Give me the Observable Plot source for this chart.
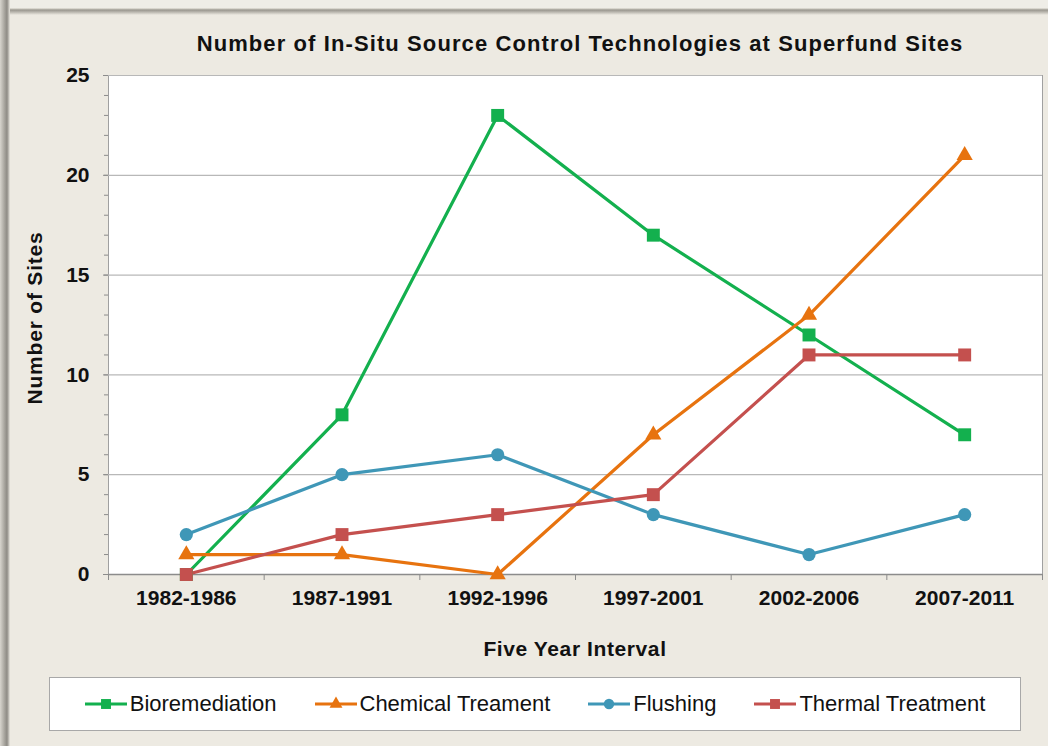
<!DOCTYPE html>
<html>
<head>
<meta charset="utf-8">
<script src="https://cdn.jsdelivr.net/npm/d3@7"></script>
<script src="https://cdn.jsdelivr.net/npm/@observablehq/plot@0.6"></script>
<style>
  html, body { margin: 0; padding: 0; }
  body { width: 1048px; height: 746px; overflow: hidden; font-family: "Liberation Sans", Arial, Helvetica, sans-serif; }
  #wrap { position: relative; width: 1048px; height: 746px; background: #EDEAE2; overflow: hidden; }
  #shadowL { position: absolute; left: 0; top: 0; width: 10px; height: 746px;
    background: linear-gradient(to right, #d8d5ce 0px, #a29f98 5px, #8e8b85 7px, #c9c6bf 9px, #EDEAE2 10px); }
  #shadowT { position: absolute; left: 0; top: 8px; width: 1048px; height: 7px;
    background: linear-gradient(to bottom, #EDEAE2 0px, #9a978f 2px, #b9b6ae 4px, #EDEAE2 7px); }
  #topband { position: absolute; left: 0; top: 0; width: 1048px; height: 9px; background: #EFEDE7; }
  #title { position: absolute; left: 110px; width: 940px; top: 31px; text-align: center;
    font-weight: bold; font-size: 22px; letter-spacing: 1.1px; color: #111; }
  #chart { position: absolute; left: 0; top: 0; }
  #ylabel { position: absolute; left: 35px; top: 318px; transform: translate(-50%, -50%) rotate(-90deg);
    font-weight: bold; font-size: 21px; letter-spacing: 0.8px; white-space: nowrap; color: #111; }
  #xlabel { position: absolute; left: 575px; top: 649px; transform: translate(-50%, -50%);
    font-weight: bold; font-size: 21px; letter-spacing: 0.6px; white-space: nowrap; color: #111; }
  #legend { position: absolute; left: 49px; top: 677px; width: 970px; height: 52px; background: #fff;
    border: 1px solid #a8a8a8; display: flex; align-items: center; justify-content: center; gap: 38px;
    font-size: 22px; color: #111; box-sizing: content-box; }
  .item { display: flex; align-items: center; white-space: nowrap; }
  .item svg { margin-right: 3px; }
</style>
</head>
<body>
<div id="wrap">
  <div id="topband"></div>
  <div id="shadowT"></div>
  <div id="shadowL"></div>
  <div id="title">Number of In-Situ Source Control Technologies at Superfund Sites</div>
  <div id="chart"></div>
  <div id="ylabel">Number of Sites</div>
  <div id="xlabel">Five Year Interval</div>
  <div id="legend"></div>
</div>
<script>
const intervals = ["1982-1986", "1987-1991", "1992-1996", "1997-2001", "2002-2006", "2007-2011"];
const bioremediation = [0, 8, 23, 17, 12, 7];
const chemicalTreatment = [1, 1, 0, 7, 13, 21];
const flushing = [2, 5, 6, 3, 1, 3];
const thermalTreatment = [0, 2, 3, 4, 11, 11];
const seriesNames = ["Bioremediation", "Chemical Treament", "Flushing", "Thermal Treatment"];
const seriesColors = ["#13B04E", "#E7730F", "#3F97B7", "#C4504E"];
const seriesSymbols = ["square", "triangle", "circle", "square"];
const yTicks = [0, 5, 10, 15, 20, 25];

const seriesValues = [bioremediation, chemicalTreatment, flushing, thermalTreatment];
const data = seriesNames.flatMap((name, s) =>
  seriesValues[s].map((v, i) => ({series: name, i, value: v}))
);
const idx = d3.range(intervals.length);
const boundaries = d3.range(intervals.length + 1).map(k => k - 0.5);
const minorTicks = d3.range(0, 26);
const symbolRadius = {square: 7.3, triangle: 6.0, circle: 6.6};

const marks = [
  Plot.frame({fill: "white", stroke: "#a0a0a0"}),
  Plot.gridY(yTicks.slice(1), {stroke: "#b8b8b8", strokeOpacity: 1, strokeWidth: 1.2}),
  Plot.axisY(minorTicks, {tickSize: 4, tickFormat: () => "", stroke: "#8c8c8c", label: null}),
  Plot.axisY(yTicks, {tickSize: 5, tickPadding: 14, stroke: "#8c8c8c", fontSize: 21, fontWeight: "bold", label: null, fill: "#111"}),
  Plot.axisX(boundaries, {tickSize: 6, tickFormat: () => "", stroke: "#8c8c8c", label: null}),
  Plot.axisX(idx, {tickSize: 0, tickPadding: 16, tickFormat: i => intervals[i], fontSize: 21, fontWeight: "bold", label: null, fill: "#111"}),
  Plot.ruleY([0], {stroke: "#8c8c8c", strokeWidth: 1.5})
];
seriesNames.forEach((name, s) => {
  const rows = data.filter(d => d.series === name);
  marks.push(Plot.line(rows, {x: "i", y: "value", stroke: seriesColors[s], strokeWidth: 3.2, curve: "linear"}));
});
seriesNames.forEach((name, s) => {
  const rows = data.filter(d => d.series === name);
  const sym = seriesSymbols[s];
  marks.push(Plot.dot(rows, {x: "i", y: "value", fill: seriesColors[s], symbol: sym, r: symbolRadius[sym], stroke: "none"}));
});

const chart = Plot.plot({
  width: 1048,
  height: 640,
  marginLeft: 108,
  marginRight: 6,
  marginTop: 75,
  marginBottom: 66,
  x: {domain: [-0.5, 5.5]},
  y: {domain: [0, 25]},
  style: "background: transparent; font-family: 'Liberation Sans', Arial, Helvetica, sans-serif; font-weight: bold; color: #111;",
  marks
});
document.getElementById("chart").appendChild(chart);

// Legend
const legend = document.getElementById("legend");
seriesNames.forEach((name, s) => {
  const item = document.createElement("div");
  item.className = "item";
  const sym = seriesSymbols[s];
  const sw = d3.create("svg").attr("width", 42).attr("height", 20);
  sw.append("line").attr("x1", 0).attr("x2", 42).attr("y1", 10).attr("y2", 10)
    .attr("stroke", seriesColors[s]).attr("stroke-width", 3.2);
  const symType = sym === "square" ? d3.symbolSquare : sym === "triangle" ? d3.symbolTriangle : d3.symbolCircle;
  const rr = sym === "square" ? 5.6 : sym === "triangle" ? 4.8 : 5.2;
  sw.append("path").attr("transform", "translate(21,10)")
    .attr("d", d3.symbol(symType, Math.PI * rr * rr)()).attr("fill", seriesColors[s]);
  item.appendChild(sw.node());
  const label = document.createElement("span");
  label.textContent = name;
  item.appendChild(label);
  legend.appendChild(item);
});
</script>
</body>
</html>
